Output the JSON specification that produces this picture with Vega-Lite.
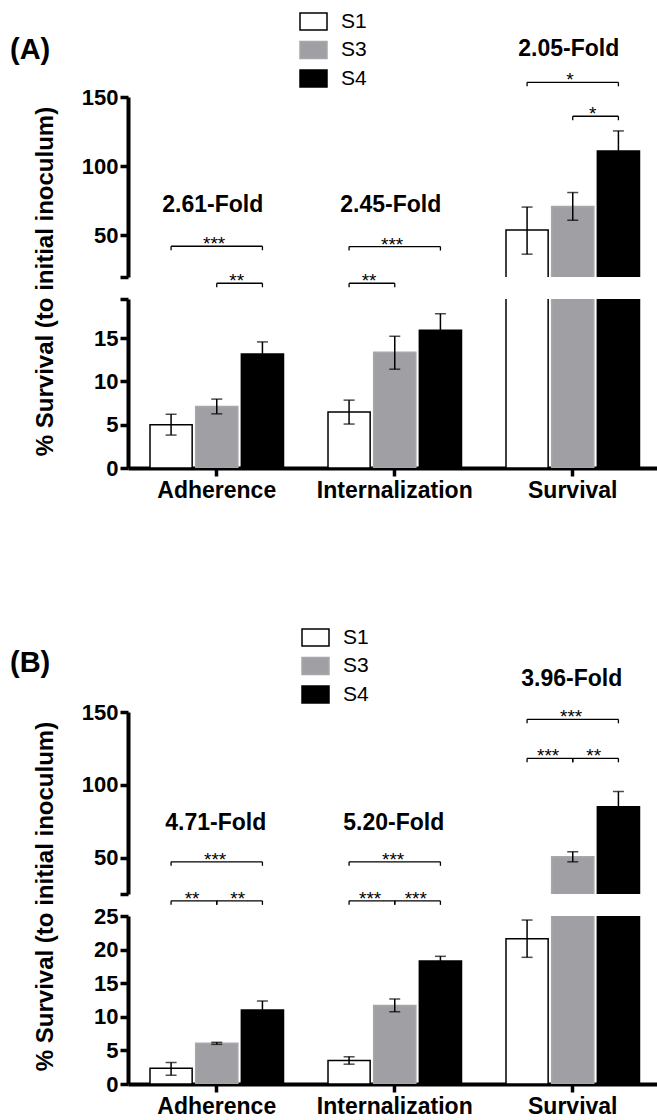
{
  "$schema": "https://vega.github.io/schema/vega-lite/v6.json",
  "background": "white",
  "padding": {"left": 10, "top": 7, "right": 0, "bottom": 0},
  "spacing": 121,
  "datasets": {
    "bars": [
      {"panel": "A", "assay": "Adherence", "strain": "S1", "mean": 5.0, "lo": 3.8, "hi": 6.2},
      {"panel": "A", "assay": "Adherence", "strain": "S3", "mean": 7.1, "lo": 6.25, "hi": 7.95},
      {"panel": "A", "assay": "Adherence", "strain": "S4", "mean": 13.15, "lo": 11.75, "hi": 14.55},
      {"panel": "A", "assay": "Internalization", "strain": "S1", "mean": 6.45, "lo": 5.07, "hi": 7.83},
      {"panel": "A", "assay": "Internalization", "strain": "S3", "mean": 13.35, "lo": 11.4, "hi": 15.2},
      {"panel": "A", "assay": "Internalization", "strain": "S4", "mean": 15.9, "lo": 14.0, "hi": 17.8},
      {"panel": "A", "assay": "Survival", "strain": "S1", "mean": 54, "lo": 36.5, "hi": 70.5},
      {"panel": "A", "assay": "Survival", "strain": "S3", "mean": 71, "lo": 61, "hi": 81},
      {"panel": "A", "assay": "Survival", "strain": "S4", "mean": 111, "lo": 96.5, "hi": 125.5},
      {"panel": "B", "assay": "Adherence", "strain": "S1", "mean": 2.33, "lo": 1.3, "hi": 3.2},
      {"panel": "B", "assay": "Adherence", "strain": "S3", "mean": 6.05, "lo": 5.9, "hi": 6.2},
      {"panel": "B", "assay": "Adherence", "strain": "S4", "mean": 11.0, "lo": 9.65, "hi": 12.35},
      {"panel": "B", "assay": "Internalization", "strain": "S1", "mean": 3.5, "lo": 2.95, "hi": 4.05},
      {"panel": "B", "assay": "Internalization", "strain": "S3", "mean": 11.7, "lo": 10.75, "hi": 12.65},
      {"panel": "B", "assay": "Internalization", "strain": "S4", "mean": 18.3, "lo": 17.6, "hi": 19.0},
      {"panel": "B", "assay": "Survival", "strain": "S1", "mean": 21.6, "lo": 18.85, "hi": 24.4},
      {"panel": "B", "assay": "Survival", "strain": "S3", "mean": 50.5, "lo": 47.1, "hi": 54},
      {"panel": "B", "assay": "Survival", "strain": "S4", "mean": 85, "lo": 74.6, "hi": 95.4}
    ],
    "folds": [
      {"panel": "A", "assay": "Adherence", "label": "2.61-Fold", "y": 71.8},
      {"panel": "A", "assay": "Internalization", "label": "2.45-Fold", "y": 71.8},
      {"panel": "A", "assay": "Survival", "label": "2.05-Fold", "y": 185},
      {"panel": "B", "assay": "Adherence", "label": "4.71-Fold", "y": 73.7},
      {"panel": "B", "assay": "Internalization", "label": "5.20-Fold", "y": 73.7},
      {"panel": "B", "assay": "Survival", "label": "3.96-Fold", "y": 173}
    ],
    "brackets": [
      {"panel": "A", "assay": "Adherence", "from": "S1", "to": "S4", "sig": "***", "y": 42.2},
      {"panel": "A", "assay": "Adherence", "from": "S3", "to": "S4", "sig": "**", "y": 15.5},
      {"panel": "A", "assay": "Internalization", "from": "S1", "to": "S4", "sig": "***", "y": 42.0},
      {"panel": "A", "assay": "Internalization", "from": "S1", "to": "S3", "sig": "**", "y": 15.5},
      {"panel": "A", "assay": "Survival", "from": "S1", "to": "S4", "sig": "*", "y": 160.6},
      {"panel": "A", "assay": "Survival", "from": "S3", "to": "S4", "sig": "*", "y": 136.1},
      {"panel": "B", "assay": "Adherence", "from": "S1", "to": "S4", "sig": "***", "y": 47.1},
      {"panel": "B", "assay": "Adherence", "from": "S1", "to": "S3", "sig": "**", "y": 20.3},
      {"panel": "B", "assay": "Adherence", "from": "S3", "to": "S4", "sig": "**", "y": 20.3},
      {"panel": "B", "assay": "Internalization", "from": "S1", "to": "S4", "sig": "***", "y": 47.1},
      {"panel": "B", "assay": "Internalization", "from": "S1", "to": "S3", "sig": "***", "y": 20.3},
      {"panel": "B", "assay": "Internalization", "from": "S3", "to": "S4", "sig": "***", "y": 20.3},
      {"panel": "B", "assay": "Survival", "from": "S1", "to": "S4", "sig": "***", "y": 145},
      {"panel": "B", "assay": "Survival", "from": "S1", "to": "S3", "sig": "***", "y": 118.2},
      {"panel": "B", "assay": "Survival", "from": "S3", "to": "S4", "sig": "**", "y": 118.2}
    ]
  },
  "resolve": {"scale": {"fill": "independent", "stroke": "independent"}, "legend": {"fill": "independent", "stroke": "independent"}},
  "vconcat": [
    {
      "bounds": "flush",
      "spacing": 22,
      "resolve": {"scale": {"fill": "independent", "stroke": "independent"}, "legend": {"fill": "independent", "stroke": "independent"}},
      "vconcat": [
        {
          "width": 529,
          "height": 180,
          "title": {"text": "(A)", "anchor": "start", "frame": "group", "orient": "top", "offset": 0, "dx": -118, "dy": 58, "fontSize": 29, "fontWeight": "bold", "color": "black", "font": "Liberation Sans"},
          "encoding": {"x": {"field": "assay", "type": "nominal", "scale": {"domain": ["Adherence", "Internalization", "Survival"], "paddingInner": 0.25, "paddingOuter": 0.111, "align": 0.557}, "axis": null}},
          "layer": [
            {
              "data": {"name": "bars"},
              "transform": [{"filter": "datum.panel == 'A'"}],
              "mark": {"type": "bar", "clip": true, "strokeWidth": 1.5},
              "encoding": {
                "xOffset": {"field": "strain", "type": "nominal", "scale": {"domain": ["S1", "S3", "S4"], "paddingInner": 0.077, "paddingOuter": 0}},
                "y": {"field": "mean", "type": "quantitative", "scale": {"domain": [20, 150], "nice": false, "zero": false}, "axis": {"values": [20, 50, 100, 150], "labelExpr": "datum.value == 20 ? '' : datum.label", "title": null}},
                "fill": {"field": "strain", "type": "nominal", "scale": {"domain": ["S1", "S3", "S4"], "range": ["#ffffff", "#a0a0a4", "#000000"]}, "legend": {"orient": "none", "legendX": 171, "legendY": -90, "title": null}},
                "stroke": {"field": "strain", "type": "nominal", "scale": {"domain": ["S1", "S3", "S4"], "range": ["#000000", "#a8a8ac", "#000000"]}, "legend": {"orient": "none", "legendX": 171, "legendY": -90, "title": null}}
              }
            },
            {
              "data": {"name": "bars"},
              "transform": [{"filter": "datum.panel == 'A'"}],
              "mark": {"type": "rule", "clip": true, "color": "black", "strokeWidth": 1.5},
              "encoding": {
                "xOffset": {"field": "strain", "type": "nominal", "scale": {"domain": ["S1", "S3", "S4"], "paddingInner": 0.077, "paddingOuter": 0}},
                "y": {"field": "lo", "type": "quantitative", "scale": {"domain": [20, 150], "nice": false, "zero": false}, "axis": {"values": [20, 50, 100, 150], "labelExpr": "datum.value == 20 ? '' : datum.label", "title": null}},
                "y2": {"field": "hi"}
              }
            },
            {
              "data": {"name": "bars"},
              "transform": [{"filter": "datum.panel == 'A'"}],
              "mark": {"type": "tick", "clip": true, "color": "black", "size": 11, "thickness": 1.5},
              "encoding": {
                "xOffset": {"field": "strain", "type": "nominal", "scale": {"domain": ["S1", "S3", "S4"], "paddingInner": 0.077, "paddingOuter": 0}},
                "y": {"field": "lo", "type": "quantitative", "scale": {"domain": [20, 150], "nice": false, "zero": false}, "axis": {"values": [20, 50, 100, 150], "labelExpr": "datum.value == 20 ? '' : datum.label", "title": null}}
              }
            },
            {
              "data": {"name": "bars"},
              "transform": [{"filter": "datum.panel == 'A'"}],
              "mark": {"type": "tick", "clip": true, "color": "black", "size": 11, "thickness": 1.5},
              "encoding": {
                "xOffset": {"field": "strain", "type": "nominal", "scale": {"domain": ["S1", "S3", "S4"], "paddingInner": 0.077, "paddingOuter": 0}},
                "y": {"field": "hi", "type": "quantitative", "scale": {"domain": [20, 150], "nice": false, "zero": false}, "axis": {"values": [20, 50, 100, 150], "labelExpr": "datum.value == 20 ? '' : datum.label", "title": null}}
              }
            },
            {
              "data": {"name": "folds"},
              "transform": [{"filter": "datum.panel == 'A'"}],
              "mark": {"type": "text", "fontSize": 23, "fontWeight": "bold", "baseline": "middle", "dx": -4, "color": "black"},
              "encoding": {
                "y": {"field": "y", "type": "quantitative", "scale": {"domain": [20, 150], "nice": false, "zero": false}, "axis": {"values": [20, 50, 100, 150], "labelExpr": "datum.value == 20 ? '' : datum.label", "title": null}},
                "text": {"field": "label"}
              }
            },
            {
              "data": {"name": "brackets"},
              "transform": [{"filter": "datum.panel == 'A'"}, {"fold": ["from", "to"], "as": ["end", "pos"]}],
              "mark": {"type": "line", "color": "black", "strokeWidth": 1.3},
              "encoding": {
                "xOffset": {"field": "pos", "type": "nominal", "scale": {"domain": ["S1", "S3", "S4"], "paddingInner": 0.077, "paddingOuter": 0}},
                "y": {"field": "y", "type": "quantitative", "scale": {"domain": [20, 150], "nice": false, "zero": false}, "axis": {"values": [20, 50, 100, 150], "labelExpr": "datum.value == 20 ? '' : datum.label", "title": null}},
                "detail": [{"field": "assay"}, {"field": "from"}, {"field": "to"}]
              }
            },
            {
              "data": {"name": "brackets"},
              "transform": [{"filter": "datum.panel == 'A'"}, {"fold": ["from", "to"], "as": ["end", "pos"]}],
              "mark": {"type": "rule", "color": "black", "strokeWidth": 1.3, "y2Offset": 4},
              "encoding": {
                "xOffset": {"field": "pos", "type": "nominal", "scale": {"domain": ["S1", "S3", "S4"], "paddingInner": 0.077, "paddingOuter": 0}},
                "y": {"field": "y", "type": "quantitative", "scale": {"domain": [20, 150], "nice": false, "zero": false}, "axis": {"values": [20, 50, 100, 150], "labelExpr": "datum.value == 20 ? '' : datum.label", "title": null}},
                "y2": {"field": "y"}
              }
            },
            {
              "data": {"name": "brackets"},
              "transform": [{"filter": "datum.panel == 'A' && datum.from == 'S1' && datum.to == 'S4'"}],
              "mark": {"type": "text", "fontSize": 19, "baseline": "alphabetic", "dx": 43, "dy": 4, "color": "black"},
              "encoding": {
                "xOffset": {"field": "from", "type": "nominal", "scale": {"domain": ["S1", "S3", "S4"], "paddingInner": 0.077, "paddingOuter": 0}},
                "y": {"field": "y", "type": "quantitative", "scale": {"domain": [20, 150], "nice": false, "zero": false}, "axis": {"values": [20, 50, 100, 150], "labelExpr": "datum.value == 20 ? '' : datum.label", "title": null}},
                "text": {"field": "sig"}
              }
            },
            {
              "data": {"name": "brackets"},
              "transform": [{"filter": "datum.panel == 'A' && !(datum.from == 'S1' && datum.to == 'S4')"}],
              "mark": {"type": "text", "fontSize": 19, "baseline": "alphabetic", "dx": 20, "dy": 4, "color": "black"},
              "encoding": {
                "xOffset": {"field": "from", "type": "nominal", "scale": {"domain": ["S1", "S3", "S4"], "paddingInner": 0.077, "paddingOuter": 0}},
                "y": {"field": "y", "type": "quantitative", "scale": {"domain": [20, 150], "nice": false, "zero": false}, "axis": {"values": [20, 50, 100, 150], "labelExpr": "datum.value == 20 ? '' : datum.label", "title": null}},
                "text": {"field": "sig"}
              }
            }
          ]
        },
        {
          "width": 529,
          "height": 169,
          "encoding": {"x": {"field": "assay", "type": "nominal", "scale": {"domain": ["Adherence", "Internalization", "Survival"], "paddingInner": 0.25, "paddingOuter": 0.111, "align": 0.557}, "axis": {"title": null, "labelAngle": 0, "labelFontSize": 23, "labelPadding": 3}}},
          "layer": [
            {
              "data": {"name": "bars"},
              "transform": [{"filter": "datum.panel == 'A'"}],
              "mark": {"type": "bar", "clip": true, "strokeWidth": 1.5},
              "encoding": {
                "xOffset": {"field": "strain", "type": "nominal", "scale": {"domain": ["S1", "S3", "S4"], "paddingInner": 0.077, "paddingOuter": 0}},
                "y": {"field": "mean", "type": "quantitative", "scale": {"domain": [0, 19.5], "nice": false}, "axis": {"values": [0, 5, 10, 15, 19.5], "labelExpr": "datum.value == 19.5 ? '' : datum.label", "title": "% Survival (to initial inoculum)", "titleX": -83, "titleY": -18, "titleBaseline": "middle", "titleFontSize": 24, "titleFontWeight": "bold"}},
                "fill": {"field": "strain", "type": "nominal", "scale": {"domain": ["S1", "S3", "S4"], "range": ["#ffffff", "#a0a0a4", "#000000"]}, "legend": null},
                "stroke": {"field": "strain", "type": "nominal", "scale": {"domain": ["S1", "S3", "S4"], "range": ["#000000", "#a8a8ac", "#000000"]}, "legend": null}
              }
            },
            {
              "data": {"name": "bars"},
              "transform": [{"filter": "datum.panel == 'A'"}],
              "mark": {"type": "rule", "clip": true, "color": "black", "strokeWidth": 1.5},
              "encoding": {
                "xOffset": {"field": "strain", "type": "nominal", "scale": {"domain": ["S1", "S3", "S4"], "paddingInner": 0.077, "paddingOuter": 0}},
                "y": {"field": "lo", "type": "quantitative", "scale": {"domain": [0, 19.5], "nice": false}, "axis": {"values": [0, 5, 10, 15, 19.5], "labelExpr": "datum.value == 19.5 ? '' : datum.label", "title": "% Survival (to initial inoculum)", "titleX": -83, "titleY": -18, "titleBaseline": "middle", "titleFontSize": 24, "titleFontWeight": "bold"}},
                "y2": {"field": "hi"}
              }
            },
            {
              "data": {"name": "bars"},
              "transform": [{"filter": "datum.panel == 'A'"}],
              "mark": {"type": "tick", "clip": true, "color": "black", "size": 11, "thickness": 1.5},
              "encoding": {
                "xOffset": {"field": "strain", "type": "nominal", "scale": {"domain": ["S1", "S3", "S4"], "paddingInner": 0.077, "paddingOuter": 0}},
                "y": {"field": "lo", "type": "quantitative", "scale": {"domain": [0, 19.5], "nice": false}, "axis": {"values": [0, 5, 10, 15, 19.5], "labelExpr": "datum.value == 19.5 ? '' : datum.label", "title": "% Survival (to initial inoculum)", "titleX": -83, "titleY": -18, "titleBaseline": "middle", "titleFontSize": 24, "titleFontWeight": "bold"}}
              }
            },
            {
              "data": {"name": "bars"},
              "transform": [{"filter": "datum.panel == 'A'"}],
              "mark": {"type": "tick", "clip": true, "color": "black", "size": 11, "thickness": 1.5},
              "encoding": {
                "xOffset": {"field": "strain", "type": "nominal", "scale": {"domain": ["S1", "S3", "S4"], "paddingInner": 0.077, "paddingOuter": 0}},
                "y": {"field": "hi", "type": "quantitative", "scale": {"domain": [0, 19.5], "nice": false}, "axis": {"values": [0, 5, 10, 15, 19.5], "labelExpr": "datum.value == 19.5 ? '' : datum.label", "title": "% Survival (to initial inoculum)", "titleX": -83, "titleY": -18, "titleBaseline": "middle", "titleFontSize": 24, "titleFontWeight": "bold"}}
              }
            }
          ]
        }
      ]
    },
    {
      "bounds": "flush",
      "spacing": 22,
      "resolve": {"scale": {"fill": "independent", "stroke": "independent"}, "legend": {"fill": "independent", "stroke": "independent"}},
      "vconcat": [
        {
          "width": 529,
          "height": 182,
          "title": {"text": "(B)", "anchor": "start", "frame": "group", "orient": "top", "offset": 0, "dx": -118, "dy": 55, "fontSize": 29, "fontWeight": "bold", "color": "black", "font": "Liberation Sans"},
          "encoding": {"x": {"field": "assay", "type": "nominal", "scale": {"domain": ["Adherence", "Internalization", "Survival"], "paddingInner": 0.25, "paddingOuter": 0.111, "align": 0.557}, "axis": null}},
          "layer": [
            {
              "data": {"name": "bars"},
              "transform": [{"filter": "datum.panel == 'B'"}],
              "mark": {"type": "bar", "clip": true, "strokeWidth": 1.5},
              "encoding": {
                "xOffset": {"field": "strain", "type": "nominal", "scale": {"domain": ["S1", "S3", "S4"], "paddingInner": 0.077, "paddingOuter": 0}},
                "y": {"field": "mean", "type": "quantitative", "scale": {"domain": [25, 150], "nice": false, "zero": false}, "axis": {"values": [25, 50, 100, 150], "labelExpr": "datum.value == 25 ? '' : datum.label", "title": null}},
                "fill": {"field": "strain", "type": "nominal", "scale": {"domain": ["S1", "S3", "S4"], "range": ["#ffffff", "#a0a0a4", "#000000"]}, "legend": {"orient": "none", "legendX": 173, "legendY": -89, "title": null}},
                "stroke": {"field": "strain", "type": "nominal", "scale": {"domain": ["S1", "S3", "S4"], "range": ["#000000", "#a8a8ac", "#000000"]}, "legend": {"orient": "none", "legendX": 173, "legendY": -89, "title": null}}
              }
            },
            {
              "data": {"name": "bars"},
              "transform": [{"filter": "datum.panel == 'B'"}],
              "mark": {"type": "rule", "clip": true, "color": "black", "strokeWidth": 1.5},
              "encoding": {
                "xOffset": {"field": "strain", "type": "nominal", "scale": {"domain": ["S1", "S3", "S4"], "paddingInner": 0.077, "paddingOuter": 0}},
                "y": {"field": "lo", "type": "quantitative", "scale": {"domain": [25, 150], "nice": false, "zero": false}, "axis": {"values": [25, 50, 100, 150], "labelExpr": "datum.value == 25 ? '' : datum.label", "title": null}},
                "y2": {"field": "hi"}
              }
            },
            {
              "data": {"name": "bars"},
              "transform": [{"filter": "datum.panel == 'B'"}],
              "mark": {"type": "tick", "clip": true, "color": "black", "size": 11, "thickness": 1.5},
              "encoding": {
                "xOffset": {"field": "strain", "type": "nominal", "scale": {"domain": ["S1", "S3", "S4"], "paddingInner": 0.077, "paddingOuter": 0}},
                "y": {"field": "lo", "type": "quantitative", "scale": {"domain": [25, 150], "nice": false, "zero": false}, "axis": {"values": [25, 50, 100, 150], "labelExpr": "datum.value == 25 ? '' : datum.label", "title": null}}
              }
            },
            {
              "data": {"name": "bars"},
              "transform": [{"filter": "datum.panel == 'B'"}],
              "mark": {"type": "tick", "clip": true, "color": "black", "size": 11, "thickness": 1.5},
              "encoding": {
                "xOffset": {"field": "strain", "type": "nominal", "scale": {"domain": ["S1", "S3", "S4"], "paddingInner": 0.077, "paddingOuter": 0}},
                "y": {"field": "hi", "type": "quantitative", "scale": {"domain": [25, 150], "nice": false, "zero": false}, "axis": {"values": [25, 50, 100, 150], "labelExpr": "datum.value == 25 ? '' : datum.label", "title": null}}
              }
            },
            {
              "data": {"name": "folds"},
              "transform": [{"filter": "datum.panel == 'B'"}],
              "mark": {"type": "text", "fontSize": 23, "fontWeight": "bold", "baseline": "middle", "dx": -1, "color": "black"},
              "encoding": {
                "y": {"field": "y", "type": "quantitative", "scale": {"domain": [25, 150], "nice": false, "zero": false}, "axis": {"values": [25, 50, 100, 150], "labelExpr": "datum.value == 25 ? '' : datum.label", "title": null}},
                "text": {"field": "label"}
              }
            },
            {
              "data": {"name": "brackets"},
              "transform": [{"filter": "datum.panel == 'B'"}, {"fold": ["from", "to"], "as": ["end", "pos"]}],
              "mark": {"type": "line", "color": "black", "strokeWidth": 1.3},
              "encoding": {
                "xOffset": {"field": "pos", "type": "nominal", "scale": {"domain": ["S1", "S3", "S4"], "paddingInner": 0.077, "paddingOuter": 0}},
                "y": {"field": "y", "type": "quantitative", "scale": {"domain": [25, 150], "nice": false, "zero": false}, "axis": {"values": [25, 50, 100, 150], "labelExpr": "datum.value == 25 ? '' : datum.label", "title": null}},
                "detail": [{"field": "assay"}, {"field": "from"}, {"field": "to"}]
              }
            },
            {
              "data": {"name": "brackets"},
              "transform": [{"filter": "datum.panel == 'B'"}, {"fold": ["from", "to"], "as": ["end", "pos"]}],
              "mark": {"type": "rule", "color": "black", "strokeWidth": 1.3, "y2Offset": 4},
              "encoding": {
                "xOffset": {"field": "pos", "type": "nominal", "scale": {"domain": ["S1", "S3", "S4"], "paddingInner": 0.077, "paddingOuter": 0}},
                "y": {"field": "y", "type": "quantitative", "scale": {"domain": [25, 150], "nice": false, "zero": false}, "axis": {"values": [25, 50, 100, 150], "labelExpr": "datum.value == 25 ? '' : datum.label", "title": null}},
                "y2": {"field": "y"}
              }
            },
            {
              "data": {"name": "brackets"},
              "transform": [{"filter": "datum.panel == 'B' && datum.from == 'S1' && datum.to == 'S4'"}],
              "mark": {"type": "text", "fontSize": 19, "baseline": "alphabetic", "dx": 44, "dy": 4, "color": "black"},
              "encoding": {
                "xOffset": {"field": "from", "type": "nominal", "scale": {"domain": ["S1", "S3", "S4"], "paddingInner": 0.077, "paddingOuter": 0}},
                "y": {"field": "y", "type": "quantitative", "scale": {"domain": [25, 150], "nice": false, "zero": false}, "axis": {"values": [25, 50, 100, 150], "labelExpr": "datum.value == 25 ? '' : datum.label", "title": null}},
                "text": {"field": "sig"}
              }
            },
            {
              "data": {"name": "brackets"},
              "transform": [{"filter": "datum.panel == 'B' && !(datum.from == 'S1' && datum.to == 'S4')"}],
              "mark": {"type": "text", "fontSize": 19, "baseline": "alphabetic", "dx": 21, "dy": 4, "color": "black"},
              "encoding": {
                "xOffset": {"field": "from", "type": "nominal", "scale": {"domain": ["S1", "S3", "S4"], "paddingInner": 0.077, "paddingOuter": 0}},
                "y": {"field": "y", "type": "quantitative", "scale": {"domain": [25, 150], "nice": false, "zero": false}, "axis": {"values": [25, 50, 100, 150], "labelExpr": "datum.value == 25 ? '' : datum.label", "title": null}},
                "text": {"field": "sig"}
              }
            }
          ]
        },
        {
          "width": 529,
          "height": 168,
          "encoding": {"x": {"field": "assay", "type": "nominal", "scale": {"domain": ["Adherence", "Internalization", "Survival"], "paddingInner": 0.25, "paddingOuter": 0.111, "align": 0.557}, "axis": {"title": null, "labelAngle": 0, "labelFontSize": 23, "labelPadding": 3}}},
          "layer": [
            {
              "data": {"name": "bars"},
              "transform": [{"filter": "datum.panel == 'B'"}],
              "mark": {"type": "bar", "clip": true, "strokeWidth": 1.5},
              "encoding": {
                "xOffset": {"field": "strain", "type": "nominal", "scale": {"domain": ["S1", "S3", "S4"], "paddingInner": 0.077, "paddingOuter": 0}},
                "y": {"field": "mean", "type": "quantitative", "scale": {"domain": [0, 25], "nice": false}, "axis": {"values": [0, 5, 10, 15, 20, 25], "title": "% Survival (to initial inoculum)", "titleX": -83, "titleY": -20, "titleBaseline": "middle", "titleFontSize": 24, "titleFontWeight": "bold"}},
                "fill": {"field": "strain", "type": "nominal", "scale": {"domain": ["S1", "S3", "S4"], "range": ["#ffffff", "#a0a0a4", "#000000"]}, "legend": null},
                "stroke": {"field": "strain", "type": "nominal", "scale": {"domain": ["S1", "S3", "S4"], "range": ["#000000", "#a8a8ac", "#000000"]}, "legend": null}
              }
            },
            {
              "data": {"name": "bars"},
              "transform": [{"filter": "datum.panel == 'B'"}],
              "mark": {"type": "rule", "clip": true, "color": "black", "strokeWidth": 1.5},
              "encoding": {
                "xOffset": {"field": "strain", "type": "nominal", "scale": {"domain": ["S1", "S3", "S4"], "paddingInner": 0.077, "paddingOuter": 0}},
                "y": {"field": "lo", "type": "quantitative", "scale": {"domain": [0, 25], "nice": false}, "axis": {"values": [0, 5, 10, 15, 20, 25], "title": "% Survival (to initial inoculum)", "titleX": -83, "titleY": -20, "titleBaseline": "middle", "titleFontSize": 24, "titleFontWeight": "bold"}},
                "y2": {"field": "hi"}
              }
            },
            {
              "data": {"name": "bars"},
              "transform": [{"filter": "datum.panel == 'B'"}],
              "mark": {"type": "tick", "clip": true, "color": "black", "size": 11, "thickness": 1.5},
              "encoding": {
                "xOffset": {"field": "strain", "type": "nominal", "scale": {"domain": ["S1", "S3", "S4"], "paddingInner": 0.077, "paddingOuter": 0}},
                "y": {"field": "lo", "type": "quantitative", "scale": {"domain": [0, 25], "nice": false}, "axis": {"values": [0, 5, 10, 15, 20, 25], "title": "% Survival (to initial inoculum)", "titleX": -83, "titleY": -20, "titleBaseline": "middle", "titleFontSize": 24, "titleFontWeight": "bold"}}
              }
            },
            {
              "data": {"name": "bars"},
              "transform": [{"filter": "datum.panel == 'B'"}],
              "mark": {"type": "tick", "clip": true, "color": "black", "size": 11, "thickness": 1.5},
              "encoding": {
                "xOffset": {"field": "strain", "type": "nominal", "scale": {"domain": ["S1", "S3", "S4"], "paddingInner": 0.077, "paddingOuter": 0}},
                "y": {"field": "hi", "type": "quantitative", "scale": {"domain": [0, 25], "nice": false}, "axis": {"values": [0, 5, 10, 15, 20, 25], "title": "% Survival (to initial inoculum)", "titleX": -83, "titleY": -20, "titleBaseline": "middle", "titleFontSize": 24, "titleFontWeight": "bold"}}
              }
            }
          ]
        }
      ]
    }
  ],
  "config": {
    "font": "Liberation Sans",
    "view": {"stroke": null},
    "axis": {"domainColor": "black", "domainWidth": 4, "tickColor": "black", "tickWidth": 3.5, "tickSize": 8, "labelColor": "black", "labelFontSize": 22, "labelFontWeight": "bold", "labelFont": "Liberation Sans", "grid": false, "titleColor": "black", "titleFont": "Liberation Sans"},
    "axisY": {"labelPadding": 2},
    "text": {"font": "Liberation Sans"},
    "legend": {"symbolType": "M-1,-0.63H1V0.63H-1Z", "symbolSize": 729, "symbolStrokeWidth": 1.5, "labelFontSize": 21, "labelOffset": 13, "rowPadding": 1.5, "padding": 0, "labelFont": "Liberation Sans", "labelColor": "black", "labelFontWeight": "normal", "symbolOpacity": 1}
  }
}
